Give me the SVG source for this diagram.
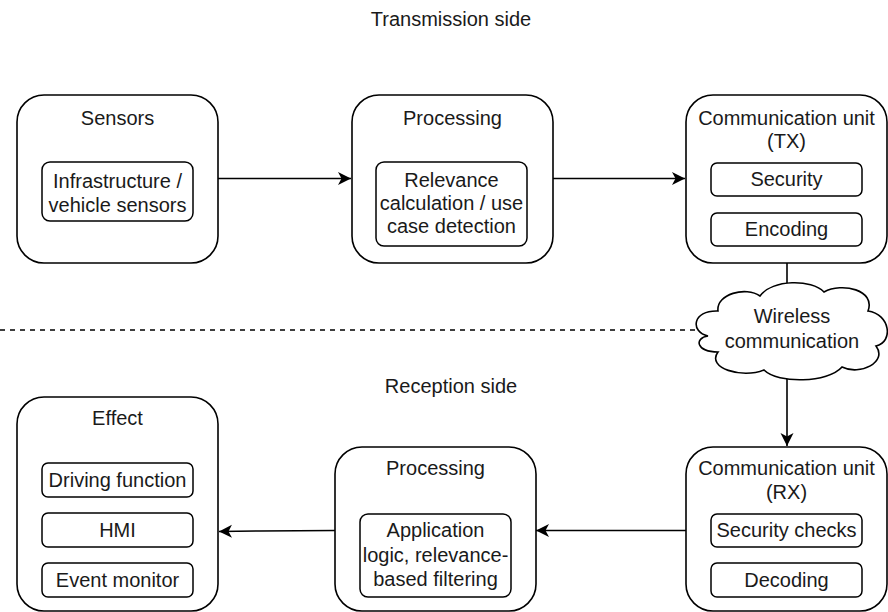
<svg xmlns="http://www.w3.org/2000/svg" width="888" height="612" viewBox="0 0 888 612" font-family="'Liberation Sans', Arial, Helvetica, sans-serif">
<defs>
<style>
.box{fill:#fff;stroke:#000;stroke-width:1.6}
.in{fill:#fff;stroke:#000;stroke-width:1.5}
text{font-family:'Liberation Sans', Arial, Helvetica, sans-serif;font-size:20px;fill:#1a1a1a;text-anchor:middle}
.c{fill:none;stroke:#000;stroke-width:1.6}
</style>
<marker id="arr" viewBox="0 0 14 14" refX="13" refY="7" markerWidth="14" markerHeight="14" markerUnits="userSpaceOnUse" orient="auto">
<path d="M13,7 L0,0.5 L3.5,7 L0,13.5 Z" fill="#000"/>
</marker>
</defs>
<rect width="888" height="612" fill="#fff"/>
<text x="451" y="26">Transmission side</text>
<text x="451" y="393">Reception side</text>

<g id="connectors">
<line class="c" x1="218" y1="178.5" x2="351" y2="178.5" marker-end="url(#arr)"/>
<line class="c" x1="553" y1="178.5" x2="685" y2="178.5" marker-end="url(#arr)"/>
<line class="c" x1="787" y1="263" x2="787" y2="288"/>
<line class="c" x1="787" y1="375" x2="787" y2="446" marker-end="url(#arr)"/>
<line class="c" x1="686" y1="530.5" x2="536" y2="530.5" marker-end="url(#arr)"/>
<polyline class="c" points="335,530.5 260,531 219,531.5" marker-end="url(#arr)"/>
<line x1="0" y1="330" x2="700" y2="330" stroke="#000" stroke-width="1.6" stroke-dasharray="5 5"/>
</g>

<g id="sensors">
<rect class="box" x="17" y="95" width="201" height="168" rx="27"/>
<text x="117.5" y="125">Sensors</text>
<rect class="in" x="42" y="162" width="151" height="59" rx="8"/>
<text x="117.5" y="188.3">Infrastructure /</text>
<text x="117.5" y="211.7">vehicle sensors</text>
</g>

<g id="processing-tx">
<rect class="box" x="352" y="95" width="201" height="168" rx="27"/>
<text x="452.5" y="125">Processing</text>
<rect class="in" x="376" y="162" width="151" height="84" rx="8"/>
<text x="451.5" y="186.7">Relevance</text>
<text x="451.5" y="210">calculation / use</text>
<text x="451.5" y="233.3">case detection</text>
</g>

<g id="comm-tx">
<rect class="box" x="686" y="95" width="201" height="168" rx="27"/>
<text x="786.5" y="125">Communication unit</text>
<text x="786.5" y="148.3">(TX)</text>
<rect class="in" x="711" y="163" width="151" height="33" rx="6"/>
<text x="786.5" y="186">Security</text>
<rect class="in" x="711" y="213" width="151" height="33" rx="6"/>
<text x="786.5" y="236">Encoding</text>
</g>

<g id="cloud">
<path class="box" d="M708,336 C690,332 692,310 718,311 C716,294 746,286 760,296 C772,279 812,279 824,292 C842,282 876,290 868,311 C890,314 894,342 876,346 C888,362 860,376 842,367 C828,383 778,384 764,370 C742,379 706,368 718,352 C696,352 694,338 708,336 Z"/>
<text x="792" y="323">Wireless</text>
<text x="792" y="348">communication</text>
</g>

<g id="effect">
<rect class="box" x="17" y="397" width="201" height="214" rx="27"/>
<text x="117.5" y="425">Effect</text>
<rect class="in" x="42" y="463" width="151" height="34" rx="6"/>
<text x="117.5" y="487">Driving function</text>
<rect class="in" x="42" y="513" width="151" height="34" rx="6"/>
<text x="117.5" y="537">HMI</text>
<rect class="in" x="42" y="563" width="151" height="34" rx="6"/>
<text x="117.5" y="587">Event monitor</text>
</g>

<g id="processing-rx">
<rect class="box" x="335" y="447" width="201" height="164" rx="27"/>
<text x="435.5" y="475">Processing</text>
<rect class="in" x="360" y="514" width="151" height="83" rx="8"/>
<text x="435.5" y="537.3">Application</text>
<text x="435.5" y="561.5">logic, relevance-</text>
<text x="435.5" y="585.7">based filtering</text>
</g>

<g id="comm-rx">
<rect class="box" x="686" y="447" width="201" height="164" rx="27"/>
<text x="786.5" y="475">Communication unit</text>
<text x="786.5" y="499">(RX)</text>
<rect class="in" x="711" y="514" width="151" height="33" rx="6"/>
<text x="786.5" y="537">Security checks</text>
<rect class="in" x="711" y="563" width="151" height="34" rx="6"/>
<text x="786.5" y="587">Decoding</text>
</g>
</svg>
